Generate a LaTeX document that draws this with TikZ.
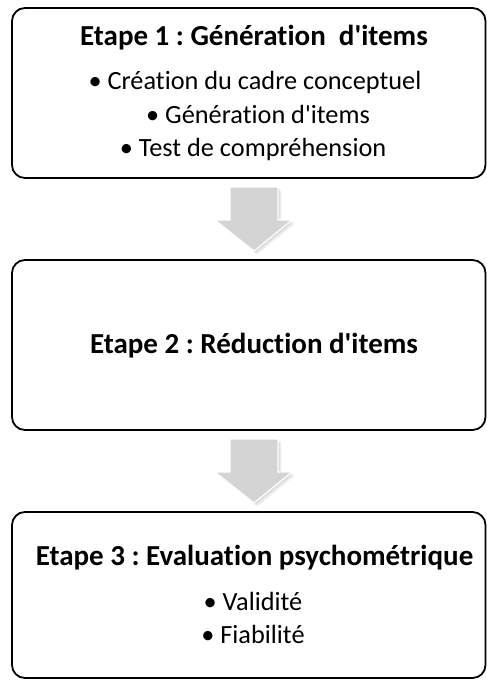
\documentclass[tikz,border=0pt]{standalone}
\usepackage{fontspec}
\setmainfont{Carlito}[Ligatures={TeXOff,NoCommon}]
\frenchspacing
\begin{document}
\begin{tikzpicture}[x=1pt,y=-1pt,
  stagebox/.style={draw=black,line width=1.8pt,rounded corners=13pt,fill=white},
  titletext/.style={anchor=base,inner sep=0pt,font=\fontsize{29}{32}\selectfont\bfseries\frenchspacing},
  itemtext/.style={anchor=base,inner sep=0pt,font=\fontsize{26.3}{30}\selectfont\frenchspacing},
  arrowfill/.style={fill=black!17,draw=white,line width=1.2pt},
  arrowshade/.style={fill=black,opacity=0.045}]
\useasboundingbox (0,0) rectangle (487,680);
% boxes
\draw[stagebox] (12,8) rectangle (485.5,178);
\draw[stagebox] (12,260) rectangle (485.5,430);
\draw[stagebox] (12,512) rectangle (485.5,678);
% box 1 texts
\node[titletext] (t1) at (254,45) {Etape 1 : Génération~ d'items};
\node[itemtext] (i11) at (255,89) {• Création du cadre conceptuel};
\node[itemtext] (i12) at (258,123) {• Génération d'items};
\node[itemtext] (i13) at (253,156) {• Test de compréhension};
% box 2
\node[titletext] (t2) at (254,353) {Etape 2 : Réduction d'items};
% box 3
\node[titletext] (t3) at (254.5,565) {Etape 3 : Evaluation psychométrique};
\node[itemtext] (i31) at (253,610) {• Validité};
\node[itemtext] (i32) at (253,643) {• Fiabilité};
% arrows
\foreach \dy in {0,252}{
  \foreach \s in {1,2,3,4}{
    \fill[arrowshade] (230+\s*0.9,187+\dy+\s*0.9) -- (278+\s*0.9,187+\dy+\s*0.9) -- (278+\s*0.9,220+\dy+\s*0.9) -- (292+\s*0.9,220+\dy+\s*0.9) -- (254+\s*0.9,251+\dy+\s*0.9) -- (215+\s*0.9,220+\dy+\s*0.9) -- (230+\s*0.9,220+\dy+\s*0.9) -- cycle;
  }
  \filldraw[arrowfill] (230,187+\dy) -- (278,187+\dy) -- (278,220+\dy) -- (292,220+\dy) -- (254,251+\dy) -- (215,220+\dy) -- (230,220+\dy) -- cycle;
}
\end{tikzpicture}
\end{document}
